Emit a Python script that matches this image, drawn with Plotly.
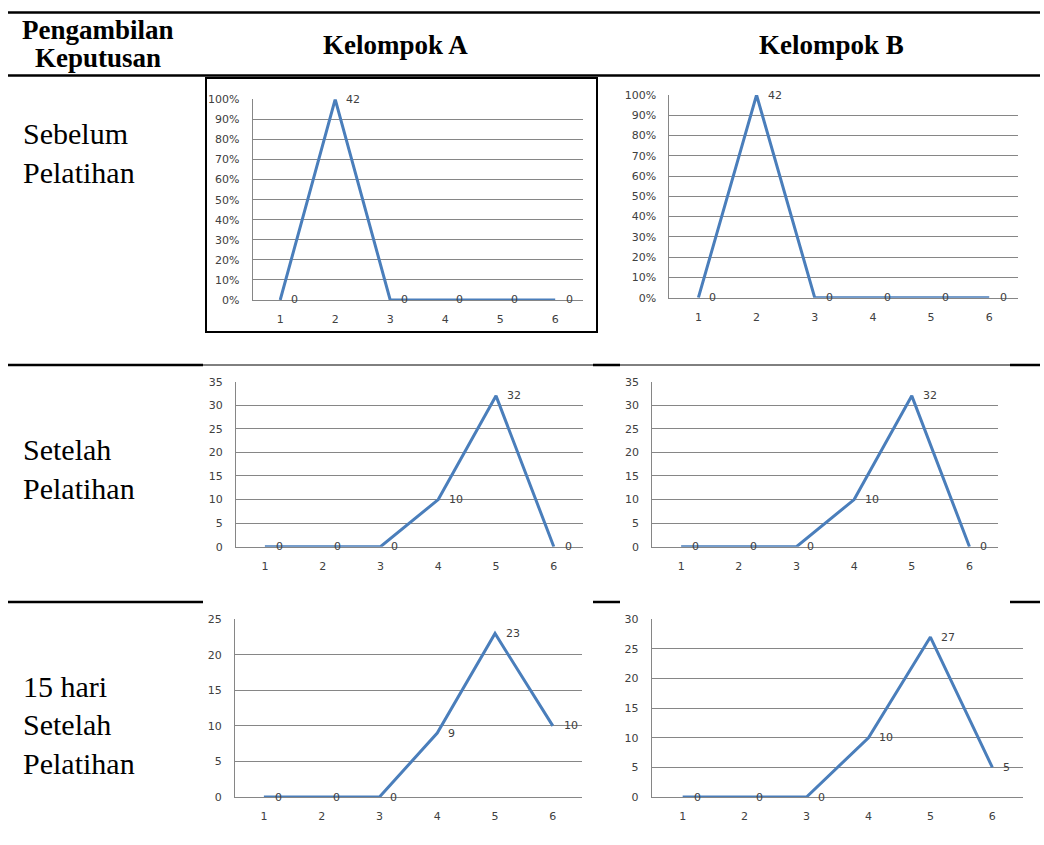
import plotly.graph_objects as go

W, H = 1044, 845

# ---------------- data ----------------
categories = [1, 2, 3, 4, 5, 6]
a_sebelum = [0, 42, 0, 0, 0, 0]
b_sebelum = [0, 42, 0, 0, 0, 0]
a_setelah = [0, 0, 0, 10, 32, 0]
b_setelah = [0, 0, 0, 10, 32, 0]
a_15hari = [0, 0, 0, 9, 23, 10]
b_15hari = [0, 0, 0, 10, 27, 5]

header_label = ["Pengambilan", "Keputusan"]
col_labels = ["Kelompok A", "Kelompok B"]
row_labels = [["Sebelum", "Pelatihan"],
              ["Setelah", "Pelatihan"],
              ["15 hari", "Setelah", "Pelatihan"]]

LINE_COLOR = "#4A7EBB"
GRID = "#868686"
TICK_FONT = dict(family="DejaVu Sans, Verdana, sans-serif", size=11, color="#404040")
SERIF = "Liberation Serif, Times New Roman, serif"


def fx(x):
    return x / W


def fy(y):
    return 1 - y / H


# panel layout: values, percent?, ymax, dtick, pixel box (x0, x1, ytop, ybottom)
panels = [
    (a_sebelum, True, 100, 10, (252.7, 582.7, 99.3, 300.0)),
    (b_sebelum, True, 100, 10, (669.3, 1018.3, 95.0, 297.7)),
    (a_setelah, False, 35, 5, (236.0, 582.7, 381.7, 546.7)),
    (b_setelah, False, 35, 5, (652.3, 998.3, 381.7, 546.7)),
    (a_15hari, False, 25, 5, (235.0, 581.7, 619.3, 797.0)),
    (b_15hari, False, 30, 5, (651.7, 1023.3, 619.3, 797.0)),
]

fig = go.Figure()
annotations = []
layout = {}

for i, (vals, pct, ymax, dtick, box) in enumerate(panels, start=1):
    xa = "x" if i == 1 else f"x{i}"
    ya = "y" if i == 1 else f"y{i}"
    # single-series 100% stacked line: each non-zero point is 100% of its category
    yv = [100 if v > 0 else 0 for v in vals] if pct else list(vals)
    fig.add_trace(go.Scatter(
        x=categories, y=yv, mode="lines", xaxis=xa, yaxis=ya,
        line=dict(color=LINE_COLOR, width=3), showlegend=False, hoverinfo="skip",
    ))
    for c, v, y in zip(categories, vals, yv):
        annotations.append(dict(
            x=c, y=y, xref=xa, yref=ya, text=str(v), showarrow=False,
            xanchor="left", yanchor="middle", xshift=9, font=TICK_FONT,
        ))
    x0, x1, yt, yb = box
    key = "" if i == 1 else str(i)
    layout["xaxis" + key] = dict(
        domain=[fx(x0), fx(x1)], range=[0.5, 6.5], tickvals=categories,
        anchor=ya, showgrid=False, zeroline=False, showline=True,
        linecolor=GRID, linewidth=1, ticks="outside", ticklen=9,
        tickcolor="rgba(0,0,0,0)", tickfont=TICK_FONT, fixedrange=True,
        automargin=False,
    )
    layout["yaxis" + key] = dict(
        domain=[fy(yb), fy(yt)], range=[0, ymax], dtick=dtick, tick0=0,
        anchor=xa, showgrid=True, gridcolor=GRID, gridwidth=1,
        zeroline=False, showline=True, linecolor=GRID, linewidth=1,
        ticks="outside", ticklen=10, tickcolor="rgba(0,0,0,0)",
        ticksuffix="%" if pct else "", tickfont=TICK_FONT, fixedrange=True,
        automargin=False,
    )

# ---------------- table text ----------------
HDR_FONT = dict(family=SERIF, size=27, color="black")
BODY_FONT = dict(family=SERIF, size=30, color="black")

annotations.append(dict(x=fx(98), y=fy(30), xref="paper", yref="paper",
                        text="<b>%s</b>" % header_label[0], showarrow=False,
                        xanchor="center", yanchor="middle", font=HDR_FONT))
annotations.append(dict(x=fx(98), y=fy(58), xref="paper", yref="paper",
                        text="<b>%s</b>" % header_label[1], showarrow=False,
                        xanchor="center", yanchor="middle", font=HDR_FONT))
for cx, lab in zip([395, 831], col_labels):
    annotations.append(dict(x=fx(cx), y=fy(45), xref="paper", yref="paper",
                            text="<b>%s</b>" % lab, showarrow=False,
                            xanchor="center", yanchor="middle", font=HDR_FONT))

row_text_y = [[133, 172], [449, 488], [686, 724, 763]]
for labs, ys in zip(row_labels, row_text_y):
    for lab, yy in zip(labs, ys):
        annotations.append(dict(x=fx(21), y=fy(yy), xref="paper", yref="paper",
                                text=lab, showarrow=False, xanchor="left",
                                yanchor="middle", font=BODY_FONT))

# ---------------- table rules ----------------
shapes = []


def hline(xa, xb, y, w):
    shapes.append(dict(type="line", xref="paper", yref="paper",
                       x0=fx(xa), x1=fx(xb), y0=fy(y), y1=fy(y),
                       line=dict(color="black", width=w)))


hline(8, 1040, 12.5, 2.5)
hline(8, 1040, 75.5, 2.5)
# row separator after "Sebelum"
hline(8, 203, 365, 2.5)
hline(203, 593, 365, 1)
hline(593, 620, 365, 2.5)
hline(620, 1010, 365, 1)
hline(1010, 1040, 365, 2.5)
# row separator after "Setelah"
hline(8, 203, 602, 2.5)
hline(593, 620, 602, 2.5)
hline(1010, 1040, 602, 2.5)
# frame around first chart
shapes.append(dict(type="rect", xref="paper", yref="paper",
                   x0=fx(206), x1=fx(597), y0=fy(332), y1=fy(78),
                   line=dict(color="black", width=2)))

fig.update_layout(
    width=W, height=H, autosize=False, margin=dict(l=0, r=0, t=0, b=0, pad=0),
    paper_bgcolor="white", plot_bgcolor="white",
    annotations=annotations, shapes=shapes, **layout,
)

fig.write_html("out.html", config={"displayModeBar": False},
               post_script="document.body.style.margin='0';document.body.style.overflow='hidden';")
